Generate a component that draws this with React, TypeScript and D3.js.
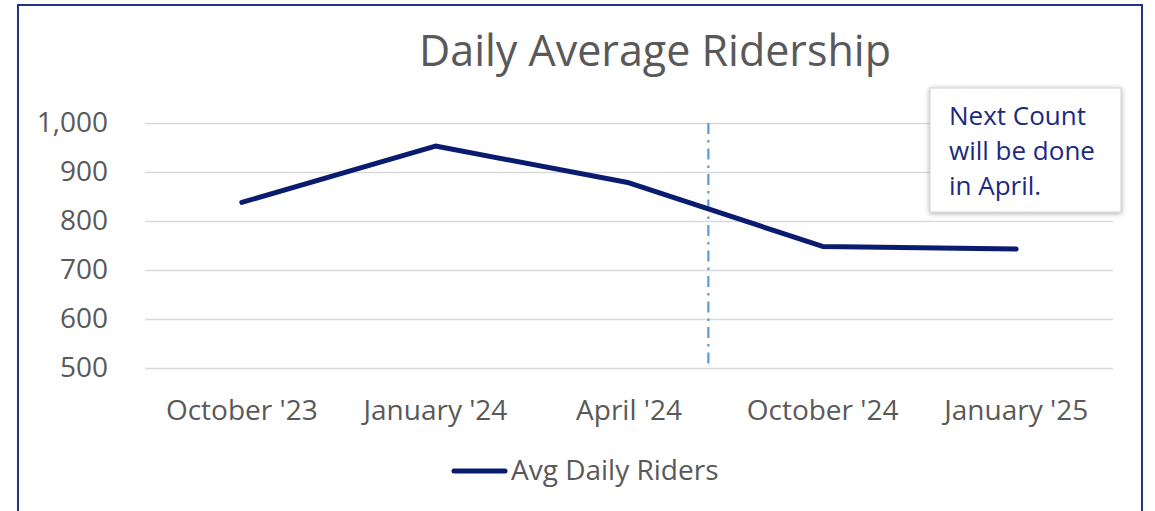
import { useEffect, useRef } from 'react';
import * as d3 from 'd3';

const categories = ["October '23", "January '24", "April '24", "October '24", "January '25"];
const riders = [838, 953, 878, 748, 743];
const yTicks = [500, 600, 700, 800, 900, 1000];
const seriesName = 'Avg Daily Riders';
const noteLines = ['Next Count', 'will be done', 'in April.'];

export default function App() {
  const svgRef = useRef<SVGSVGElement>(null);

  useEffect(() => {
    const width = 1155;
    const height = 511;
    const font = 'Open Sans, sans-serif';
    const grey = '#595959';
    const navy = '#0a1c70';

    const svg = d3.select(svgRef.current)
      .attr('width', width)
      .attr('height', height);
    svg.selectAll('*').remove();

    const defs = svg.append('defs');
    const shadow = defs.append('filter').attr('id', 'shadow')
      .attr('x', '-20%').attr('y', '-20%').attr('width', '140%').attr('height', '140%');
    shadow.append('feDropShadow')
      .attr('dx', 0).attr('dy', 1).attr('stdDeviation', 2.5)
      .attr('flood-color', '#000').attr('flood-opacity', 0.35);

    // outer frame
    svg.append('rect')
      .attr('x', 18).attr('y', 5)
      .attr('width', 1124).attr('height', 520)
      .attr('fill', 'white')
      .attr('stroke', '#23338a')
      .attr('stroke-width', 2);

    svg.append('text')
      .attr('x', 655).attr('y', 66)
      .attr('text-anchor', 'middle')
      .attr('font-family', font)
      .attr('font-size', 43)
      .attr('fill', grey)
      .text('Daily Average Ridership');

    const x = d3.scaleBand().domain(categories).range([145, 1113]);
    const y = d3.scaleLinear().domain([500, 1000]).range([368, 123]);

    const yAxis = svg.append('g')
      .attr('transform', 'translate(145,0)')
      .call(d3.axisLeft(y).tickValues(yTicks).tickSize(-968).tickFormat(d3.format(',')));
    yAxis.select('.domain').remove();
    yAxis.selectAll('.tick line').attr('stroke', '#d9d9d9').attr('stroke-width', 1.5);
    yAxis.selectAll('.tick text')
      .attr('x', -37)
      .attr('font-family', font)
      .attr('font-size', 28)
      .attr('fill', grey);

    const xAxis = svg.append('g')
      .attr('transform', 'translate(0,368)')
      .call(d3.axisBottom(x).tickSize(0));
    xAxis.select('.domain').remove();
    xAxis.selectAll('.tick text')
      .attr('dy', 0)
      .attr('y', 52)
      .attr('font-family', font)
      .attr('font-size', 28)
      .attr('fill', grey);

    // divider between counts
    const divX = (x("April '24")! + x.bandwidth() / 2) * 0.59 + (x("October '24")! + x.bandwidth() / 2) * 0.41;
    svg.append('line')
      .attr('x1', divX).attr('x2', divX)
      .attr('y1', y(1000)).attr('y2', y(500))
      .attr('stroke', '#5b9bd5')
      .attr('stroke-width', 2.2)
      .attr('stroke-dasharray', '11 6 2.5 6');

    const line = d3.line<number>()
      .x((_, i) => x(categories[i])! + x.bandwidth() / 2)
      .y(d => y(d));

    svg.append('path')
      .datum(riders)
      .attr('d', line)
      .attr('fill', 'none')
      .attr('stroke', navy)
      .attr('stroke-width', 5)
      .attr('stroke-linecap', 'round')
      .attr('stroke-linejoin', 'round');

    // legend
    svg.append('line')
      .attr('x1', 454).attr('x2', 505)
      .attr('y1', 471).attr('y2', 471)
      .attr('stroke', navy)
      .attr('stroke-width', 5)
      .attr('stroke-linecap', 'round');
    svg.append('text')
      .attr('x', 511).attr('y', 480)
      .attr('font-family', font)
      .attr('font-size', 28)
      .attr('fill', grey)
      .text(seriesName);

    // note box
    const note = svg.append('g');
    note.append('rect')
      .attr('x', 930).attr('y', 88)
      .attr('width', 191).attr('height', 124)
      .attr('fill', 'white')
      .attr('stroke', '#d0d0d0')
      .attr('filter', 'url(#shadow)');
    note.selectAll('text.note')
      .data(noteLines)
      .join('text')
      .attr('class', 'note')
      .attr('x', 949)
      .attr('y', (_, i) => 125 + i * 35)
      .attr('font-family', font)
      .attr('font-size', 26)
      .attr('fill', '#1b2a80')
      .text(d => d);
  }, []);

  return (
    <div style={{ position: 'absolute', left: 0, top: 0 }}>
      <svg ref={svgRef} style={{ display: 'block' }}></svg>
    </div>
  );
}
